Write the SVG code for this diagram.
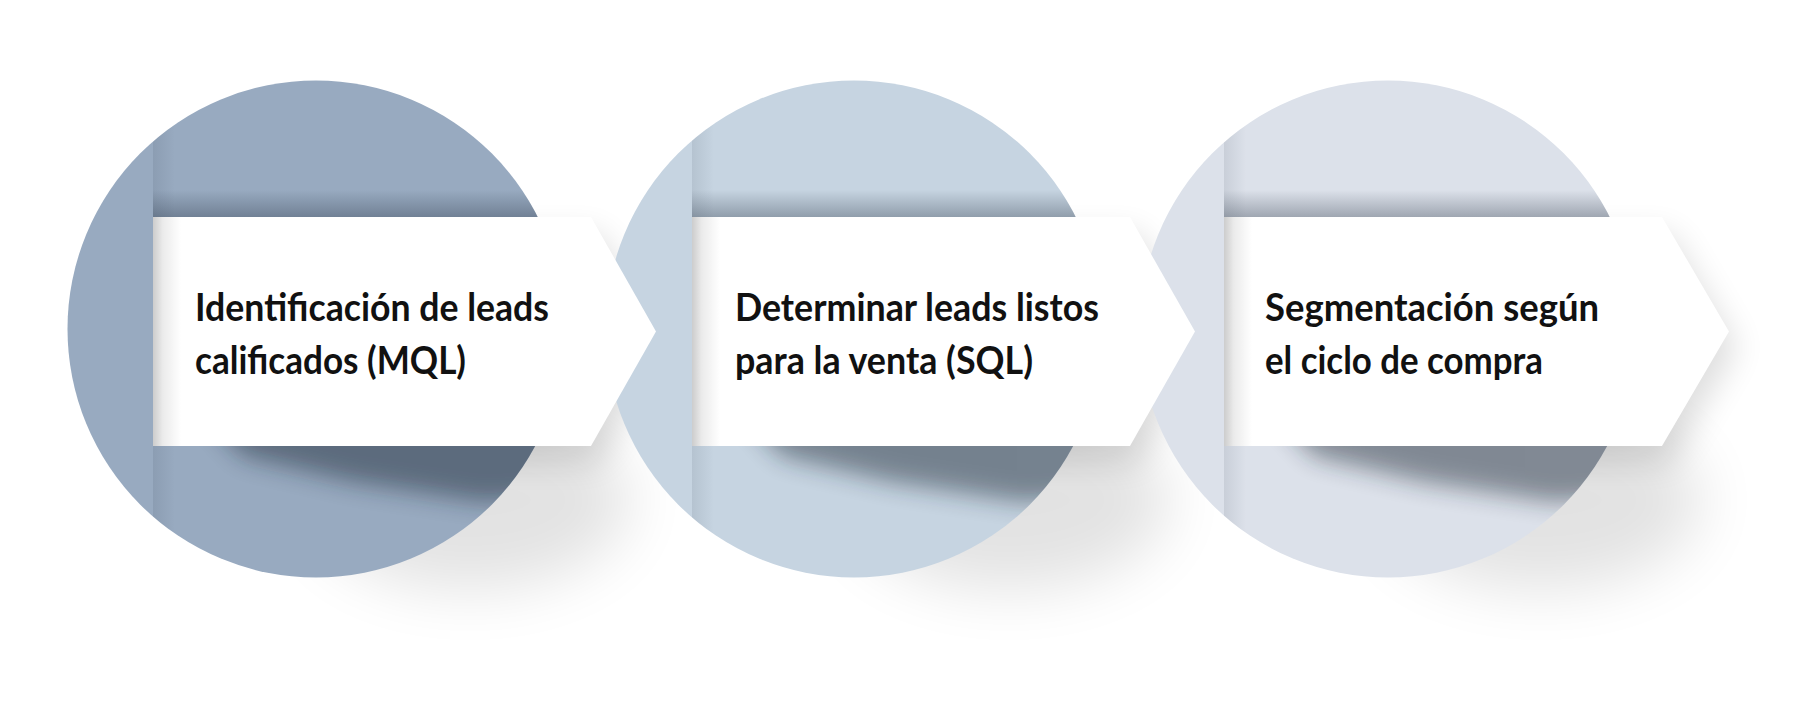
<svg xmlns="http://www.w3.org/2000/svg" width="1801" height="701" viewBox="0 0 1801 701">
<defs>
<style>
.lbl{font-family:Lato,"Liberation Sans",sans-serif;font-size:39px;font-weight:700;fill:#111;}
.banner{fill:#ffffff;}
.topsh{fill:url(#gTop);}
.fold{fill:url(#gFold);}
.edge{fill:url(#gEdge);}
.botsh{fill:#18222f;opacity:0.46;filter:url(#bSm);}
.outsh{fill:#000;opacity:0.13;filter:url(#bMid);}
.glow{fill:#000;opacity:0.11;filter:url(#bBig);}
</style>
<filter id="bSm" x="-50%" y="-50%" width="200%" height="200%"><feGaussianBlur stdDeviation="12"/></filter>
<filter id="bMid" x="-50%" y="-50%" width="200%" height="200%"><feGaussianBlur stdDeviation="16"/></filter>
<filter id="bBig" x="-50%" y="-50%" width="200%" height="200%"><feGaussianBlur stdDeviation="30"/></filter>
<linearGradient id="gTop" x1="0" y1="0" x2="0" y2="1">
<stop offset="0" stop-color="#1e2a3a" stop-opacity="0"/>
<stop offset="1" stop-color="#1e2a3a" stop-opacity="0.32"/>
</linearGradient>
<linearGradient id="gFold" x1="0" y1="0" x2="1" y2="0">
<stop offset="0" stop-color="#1e2a3a" stop-opacity="0.1"/>
<stop offset="1" stop-color="#1e2a3a" stop-opacity="0"/>
</linearGradient>
<linearGradient id="gEdge" x1="0" y1="0" x2="1" y2="0">
<stop offset="0" stop-color="#000" stop-opacity="0.2"/>
<stop offset="0.35" stop-color="#000" stop-opacity="0.08"/>
<stop offset="1" stop-color="#000" stop-opacity="0"/>
</linearGradient>
<clipPath id="c1"><circle cx="316" cy="329" r="248.5"/></clipPath>
<clipPath id="c2"><circle cx="854" cy="329" r="248.5"/></clipPath>
<clipPath id="c3"><circle cx="1388" cy="329" r="248.5"/></clipPath>
</defs>
<rect width="1801" height="701" fill="#ffffff"/>
<g id="shadows">
<polygon class="outsh" points="161,233 599,233 664,347 599,462 161,462"/>
<ellipse class="glow" cx="470" cy="500" rx="160" ry="90"/>
<polygon class="outsh" points="700,233 1138,233 1203,347 1138,462 700,462"/>
<ellipse class="glow" cx="1009" cy="500" rx="160" ry="90"/>
<polygon class="outsh" points="1232,233 1670,233 1737,347 1670,462 1232,462"/>
<ellipse class="glow" cx="1541" cy="500" rx="160" ry="90"/>
</g>
<g id="connectors"></g>
<g id="node3">
<circle cx="1388" cy="329" r="248.5" fill="#dce1ea"/>
<g clip-path="url(#c3)">
<rect class="fold" x="1224" y="0" width="22" height="701"/>
<rect class="topsh" x="1224" y="190" width="460" height="27"/>
<polygon class="botsh" points="1264,400 1654,400 1654,495 1554,502 1424,482 1314,456"/>
</g>
<polygon class="banner" points="1224,217 1662,217 1729,331.5 1662,446 1224,446"/>
<rect class="edge" x="1224" y="217" width="28" height="229"/>
<text class="lbl" x="1265" y="321" textLength="334" lengthAdjust="spacingAndGlyphs">Segmentación según</text>
<text class="lbl" x="1265" y="374" textLength="278" lengthAdjust="spacingAndGlyphs">el ciclo de compra</text>
</g>
<g id="node2">
<circle cx="854" cy="329" r="248.5" fill="#c6d4e1"/>
<g clip-path="url(#c2)">
<rect class="fold" x="692" y="0" width="22" height="701"/>
<rect class="topsh" x="692" y="190" width="460" height="27"/>
<polygon class="botsh" points="732,400 1122,400 1122,495 1022,502 892,482 782,456"/>
</g>
<polygon class="banner" points="692,217 1130,217 1195,331.5 1130,446 692,446"/>
<rect class="edge" x="692" y="217" width="28" height="229"/>
<text class="lbl" x="735" y="321" textLength="364" lengthAdjust="spacingAndGlyphs">Determinar leads listos</text>
<text class="lbl" x="735" y="374" textLength="298" lengthAdjust="spacingAndGlyphs">para la venta (SQL)</text>
</g>
<g id="node1">
<circle cx="316" cy="329" r="248.5" fill="#98aac0"/>
<g clip-path="url(#c1)">
<rect class="fold" x="153" y="0" width="22" height="701"/>
<rect class="topsh" x="153" y="190" width="460" height="27"/>
<polygon class="botsh" points="193,400 583,400 583,495 483,502 353,482 243,456"/>
</g>
<polygon class="banner" points="153,217 591,217 656,331.5 591,446 153,446"/>
<rect class="edge" x="153" y="217" width="28" height="229"/>
<text class="lbl" x="195" y="321" textLength="354" lengthAdjust="spacingAndGlyphs">Identificación de leads</text>
<text class="lbl" x="195" y="374" textLength="271" lengthAdjust="spacingAndGlyphs">calificados (MQL)</text>
</g>
</svg>
